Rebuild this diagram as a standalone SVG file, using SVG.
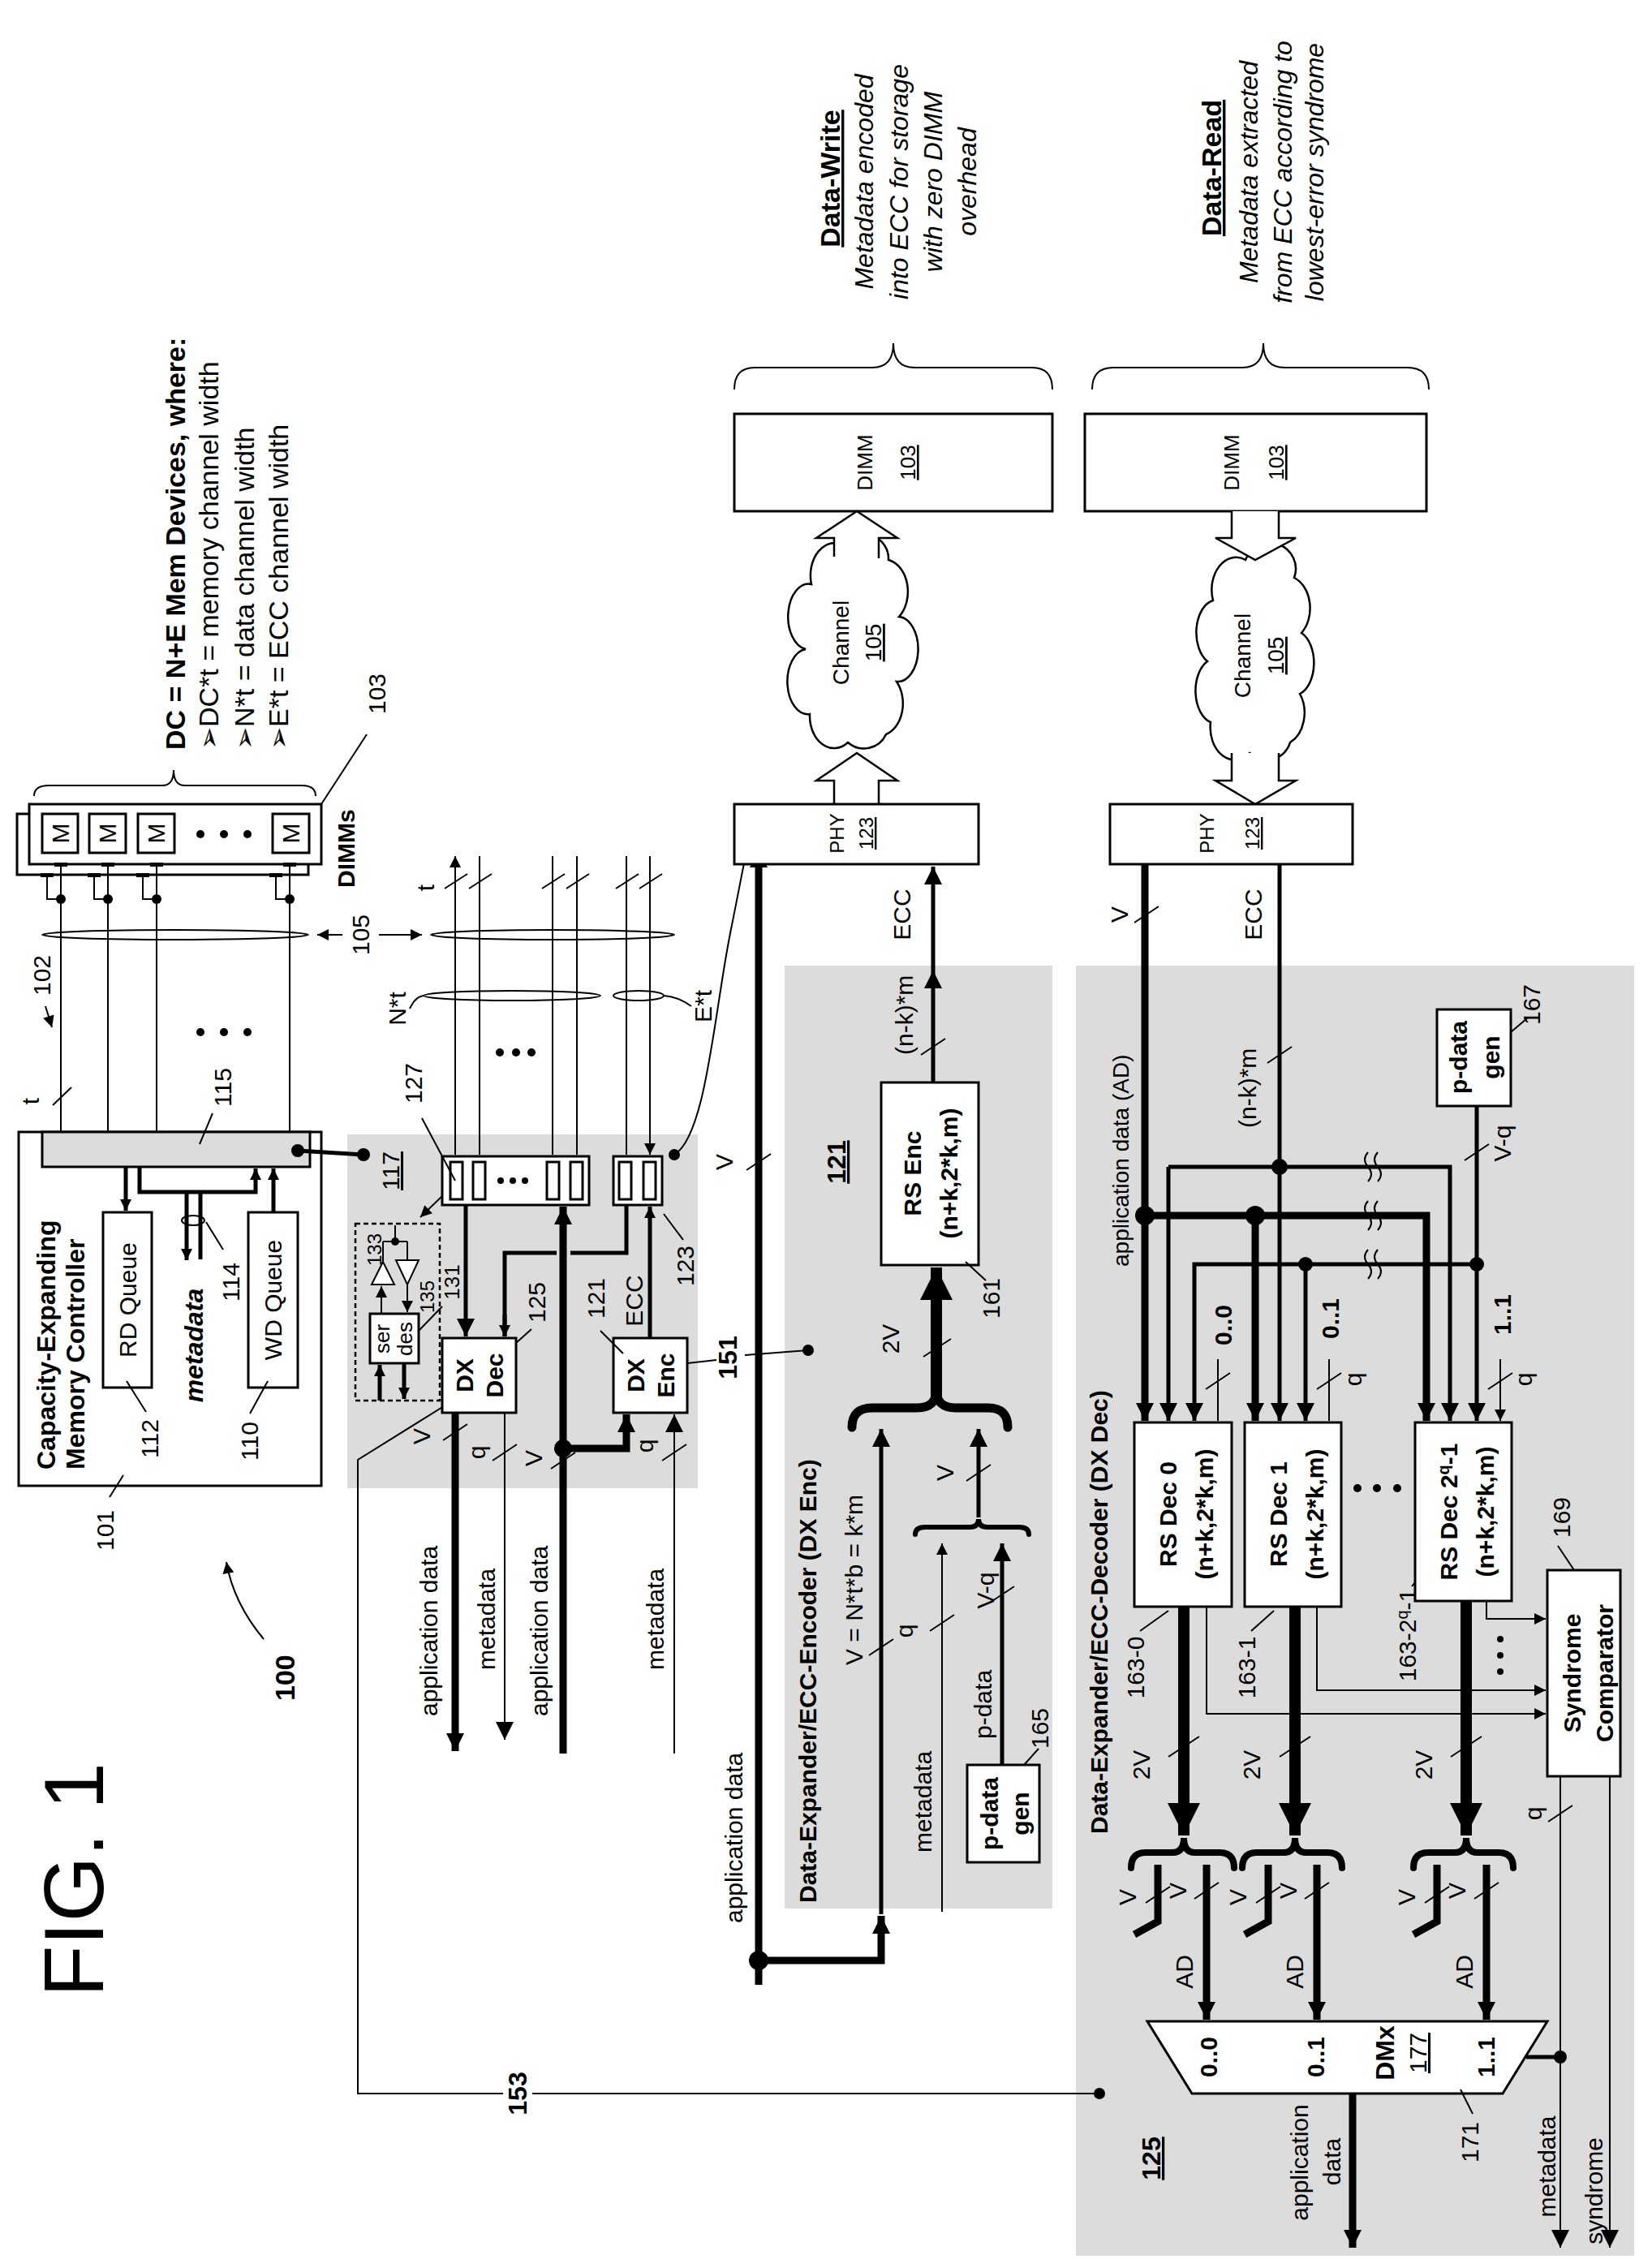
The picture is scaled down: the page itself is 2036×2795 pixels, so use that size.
<svg xmlns="http://www.w3.org/2000/svg" width="2036" height="2795" viewBox="0 0 2036 2795">
<style>
text{font-family:"Liberation Sans",Arial,sans-serif;fill:#000}
.m{text-anchor:middle}
.b{font-weight:bold}
.i{font-style:italic}
.u{text-decoration:underline}
.f24{font-size:24px}.f26{font-size:26px}.f28{font-size:28px}.f30{font-size:30px}.f32{font-size:32px}.f34{font-size:34px}
.box{fill:#fff;stroke:#000;stroke-width:3}
.ln{fill:none;stroke:#000;stroke-width:2}
.md{fill:none;stroke:#000;stroke-width:5}
.tk{fill:none;stroke:#000;stroke-width:9}
.xt{fill:none;stroke:#000;stroke-width:14}
.gray{fill:#dcdcdc;stroke:none}
.dot{fill:#000}
</style>
<defs>
<marker id="a" viewBox="0 0 10 10" refX="10" refY="5" markerWidth="18" markerHeight="14" markerUnits="userSpaceOnUse" orient="auto"><path d="M0,0L10,5L0,10z"/></marker>
<marker id="am" viewBox="0 0 10 10" refX="10" refY="5" markerWidth="28" markerHeight="22" markerUnits="userSpaceOnUse" orient="auto"><path d="M0,0L10,5L0,10z"/></marker>
<marker id="ab" viewBox="0 0 10 10" refX="10" refY="5" markerWidth="46" markerHeight="40" markerUnits="userSpaceOnUse" orient="auto"><path d="M0,0L10,5L0,10z"/></marker>
<marker id="as" viewBox="0 0 10 10" refX="0" refY="5" markerWidth="18" markerHeight="14" markerUnits="userSpaceOnUse" orient="auto"><path d="M10,0L0,5L10,10z"/></marker>
</defs>
<rect width="2036" height="2795" fill="#fff"/>

<!-- gray regions -->
<rect class="gray" x="428" y="1398" width="432" height="436"/>
<rect class="gray" x="967" y="1190" width="330" height="1162"/>
<rect class="gray" x="1326" y="1190" width="688" height="1590"/>

<text class="f" transform="translate(127,2461) rotate(-90)" style="font-size:104px">FIG. 1</text>
<g id="n100">
<text class="b f34" transform="translate(363,2096) rotate(-90)">100</text>
<path class="ln" d="M325,2020 C300,1990 285,1960 279,1925" marker-end="url(#a)"/>
</g>

<g id="dimms">
<rect class="box" x="21" y="1003" width="359" height="75"/>
<rect class="box" x="36" y="991" width="360" height="74"/>
<rect class="box" x="52" y="1003" width="44" height="48"/>
<rect class="box" x="110" y="1003" width="45" height="48"/>
<rect class="box" x="170" y="1003" width="45" height="48"/>
<rect class="box" x="336" y="1003" width="45" height="48"/>
<text class="m f30" transform="translate(85,1027) rotate(-90)">M</text>
<text class="m f30" transform="translate(143,1027) rotate(-90)">M</text>
<text class="m f30" transform="translate(203,1027) rotate(-90)">M</text>
<text class="m f30" transform="translate(369,1027) rotate(-90)">M</text>
<circle class="dot" cx="247" cy="1028" r="5"/><circle class="dot" cx="276" cy="1028" r="5"/><circle class="dot" cx="305" cy="1028" r="5"/>
<g fill="#000">
<rect x="67" y="1063" width="16" height="5"/><rect x="125" y="1063" width="16" height="5"/><rect x="185" y="1063" width="16" height="5"/><rect x="349" y="1063" width="16" height="5"/>
<rect x="50" y="1076" width="16" height="5"/><rect x="108" y="1076" width="16" height="5"/><rect x="168" y="1076" width="16" height="5"/><rect x="332" y="1076" width="16" height="5"/>
</g>
<path class="ln" d="M58,1080V1108H75M116,1080V1108H133M176,1080V1108H193M340,1080V1108H357"/>
<circle class="dot" cx="75" cy="1108" r="6"/><circle class="dot" cx="133" cy="1108" r="6"/><circle class="dot" cx="193" cy="1108" r="6"/><circle class="dot" cx="357" cy="1108" r="6"/>
<path class="ln" d="M42,981 Q42,968 60,968 H200 Q214,968 214,949 Q214,968 228,968 H372 Q389,968 389,981"/>
<text class="b f30" transform="translate(437,1094) rotate(-90)">DIMMs</text>
<text class="f30" transform="translate(475,880) rotate(-90)">103</text>
<path class="ln" d="M396,991 L452,905"/>
<text class="b f34" transform="translate(228,924) rotate(-90)">DC = N+E Mem Devices, where:</text>
<text class="f34" transform="translate(269,924) rotate(-90)">➢DC*t = memory channel width</text>
<text class="f34" transform="translate(313,924) rotate(-90)">➢N*t = data channel width</text>
<text class="f34" transform="translate(355,924) rotate(-90)">➢E*t = ECC channel width</text>
</g>

<g id="controller">
<rect class="box" x="23" y="1395" width="373" height="436"/>
<rect x="52" y="1395" width="330" height="43" fill="#dcdcdc" stroke="#000" stroke-width="3"/>
<text class="b f32" transform="translate(68,1811) rotate(-90)">Capacity-Expanding</text>
<text class="b f32" transform="translate(104,1811) rotate(-90)">Memory Controller</text>
<rect class="box" x="127" y="1494" width="60" height="216"/>
<text class="m f30" transform="translate(168,1602) rotate(-90)">RD Queue</text>
<rect class="box" x="306" y="1494" width="61" height="216"/>
<text class="m f30" transform="translate(347,1602) rotate(-90)">WD Queue</text>
<path class="md" d="M155,1438V1492" marker-end="url(#a)"/>
<path class="md" d="M337,1494V1440" marker-end="url(#a)"/>
<path class="md" d="M172,1438V1469H315V1440" marker-end="url(#a)"/>
<path class="md" d="M230,1469V1553" marker-end="url(#a)"/>
<path class="md" d="M247,1469V1552"/>
<ellipse class="ln" cx="238" cy="1504" rx="14" ry="6"/>
<text class="b i f32 m" transform="translate(250,1658) rotate(-90)">metadata</text>
<text class="f30" transform="translate(295,1604) rotate(-90)">114</text>
<path class="ln" d="M254,1506 L275,1540"/>
<text class="f30" transform="translate(195,1797) rotate(-90)">112</text>
<path class="ln" d="M156,1702 L180,1740"/>
<text class="f30" transform="translate(318,1800) rotate(-90)">110</text>
<path class="ln" d="M330,1702 L308,1742"/>
<text class="f30" transform="translate(140,1911) rotate(-90)">101</text>
<path class="ln" d="M152,1818 L135,1845"/>
<text class="f30 m" transform="translate(285,1340) rotate(-90)">115</text>
<path class="ln" d="M262,1372 L246,1410"/>
</g>

<g id="connectors">
<path class="ln" d="M75,1065V1395M133,1065V1395M193,1065V1395M357,1065V1395"/>
<path class="ln" d="M65,1362 L88,1340"/>
<text class="m f30" transform="translate(48,1357) rotate(-90)">t</text>
<ellipse class="ln" cx="216" cy="1152" rx="164" ry="6"/>
<text class="m f30" transform="translate(455,1152) rotate(-90)">105</text>
<path class="ln" d="M422,1152H391" marker-end="url(#a)"/>
<path class="ln" d="M467,1152H520" marker-end="url(#a)"/>
<text class="m f30" transform="translate(62,1202) rotate(-90)">102</text>
<path class="ln" d="M56,1240L64,1266" marker-end="url(#a)"/>
<circle class="dot" cx="247" cy="1272" r="5"/><circle class="dot" cx="276" cy="1272" r="5"/><circle class="dot" cx="305" cy="1272" r="5"/>

<path class="ln" d="M561,1055V1423M591,1055V1423M681,1055V1423M711,1055V1423M772,1055V1423M801,1055V1423" marker-start="url(#as)" marker-end="url(#a)"/>
<path class="ln" d="M548,1095L576,1077M578,1095L606,1077M668,1095L696,1077M698,1095L726,1077M759,1095L787,1077M788,1095L816,1077"/>
<text class="m f30" transform="translate(535,1094) rotate(-90)">t</text>
<ellipse class="ln" cx="681" cy="1152" rx="150" ry="6"/>
<ellipse class="ln" cx="631" cy="1227" rx="109" ry="6"/>
<ellipse class="ln" cx="787" cy="1227" rx="31" ry="6"/>
<text class="m f30" transform="translate(500,1243) rotate(-90)">N*t</text>
<path class="ln" d="M505,1243 Q512,1228 522,1227"/>
<text class="m f30" transform="translate(877,1240) rotate(-90)">E*t</text>
<path class="ln" d="M852,1240 Q835,1228 818,1227"/>
<circle class="dot" cx="616" cy="1297" r="5"/><circle class="dot" cx="636" cy="1297" r="5"/><circle class="dot" cx="655" cy="1297" r="5"/>

<!-- 117 block -->
<text class="m f30 u" transform="translate(492,1443) rotate(-90)">117</text>
<path class="md" d="M367,1418L448,1423"/>
<circle class="dot" cx="367" cy="1418" r="8"/><circle class="dot" cx="448" cy="1423" r="8"/>
<path class="md" d="M574,1485V1647" marker-end="url(#am)"/>
<path class="md" d="M772,1485V1544H703M686,1544H622V1647" />
<path class="md" d="M622,1620V1647" marker-end="url(#a)"/>
<path class="md" d="M801,1649V1487" marker-end="url(#a)"/>
<path class="tk" d="M694,2161V1487" marker-end="url(#am)"/>
<circle class="dot" cx="694" cy="1785" r="11"/>
<path class="tk" d="M694,1785H772V1743" marker-end="url(#am)"/>
<path class="tk" d="M561,1741V2158" marker-end="url(#am)"/>
<path class="ln" d="M622,1741V2144" marker-end="url(#am)"/>
<path class="ln" d="M831,2161V1743" marker-end="url(#am)"/>
<path class="ln" d="M546,1775L576,1755M607,1800L637,1780M679,1810L709,1790M816,1800L846,1780"/>
<text class="m f30" transform="translate(530,1770) rotate(-90)">V</text>
<text class="m f30" transform="translate(598,1790) rotate(-90)">q</text>
<text class="m f30" transform="translate(668,1797) rotate(-90)">V</text>
<text class="m f30" transform="translate(805,1782) rotate(-90)">q</text>
<text class="f30" transform="translate(539,2115) rotate(-90)">application data</text>
<text class="f30" transform="translate(610,2058) rotate(-90)">metadata</text>
<text class="f30" transform="translate(675,2115) rotate(-90)">application data</text>
<text class="f30" transform="translate(818,2058) rotate(-90)">metadata</text>
<path class="ln" d="M555,1728 L441,1799 V2580 H620 M656,2580 H1355"/>
<circle class="dot" cx="1355" cy="2580" r="7"/>
<text class="b f32 m" transform="translate(649,2580) rotate(-90)">153</text>
<path class="ln" d="M831,1423 C870,1400 880,1250 900,1150 S915,1070 920,1054"/>
<circle class="dot" cx="831" cy="1423" r="7"/><circle class="dot" cx="920" cy="1054" r="7"/>
<path class="tk" d="M935,2446V1047" marker-end="url(#am)"/>
<path class="ln" d="M920,1442L950,1422"/>
<text class="m f30" transform="translate(903,1432) rotate(-90)">V</text>
<circle class="dot" cx="935" cy="2416" r="12"/>
<path class="tk" d="M935,2416H1086V2361" marker-end="url(#am)"/>
<path class="md" d="M1086,2359V1761" marker-end="url(#am)"/>
<text class="b f32 m" transform="translate(908,1673) rotate(-90)">151</text>
<path class="ln" d="M847,1680L883,1676M918,1670L996,1664"/>
<circle class="dot" cx="996" cy="1664" r="7"/>
<text class="f30" transform="translate(915,2370) rotate(-90)">application data</text>
</g>

<g id="n117">
<rect class="box" x="545" y="1425" width="181" height="60"/>
<rect class="box" x="555" y="1432" width="15" height="46"/><rect class="box" x="583" y="1432" width="15" height="46"/>
<rect class="box" x="674" y="1432" width="15" height="46"/><rect class="box" x="703" y="1432" width="15" height="46"/>
<circle class="dot" cx="617" cy="1455" r="4"/><circle class="dot" cx="632" cy="1455" r="4"/><circle class="dot" cx="647" cy="1455" r="4"/>
<rect class="box" x="756" y="1425" width="60" height="60"/>
<rect class="box" x="763" y="1432" width="15" height="46"/><rect class="box" x="793" y="1432" width="15" height="46"/>
<text class="m f30" transform="translate(520,1335) rotate(-90)">127</text>
<path class="ln" d="M520,1378L561,1455"/>
<path class="ln" d="M545,1474L518,1500" marker-end="url(#a)"/>
<text class="m f30" transform="translate(855,1560) rotate(-90)">123</text>
<path class="ln" d="M842,1528L818,1496"/>
<rect x="438" y="1508" width="104" height="218" fill="none" stroke="#000" stroke-width="2.5" stroke-dasharray="6,4"/>
<rect class="box" x="456" y="1619" width="60" height="61"/>
<text class="m f26" transform="translate(480,1650) rotate(-90)">ser</text>
<text class="m f26" transform="translate(508,1650) rotate(-90)">des</text>
<path class="box" d="M472,1555L458,1583H486Z" style="stroke-width:2"/>
<path class="box" d="M502,1583L488,1553H516Z" style="stroke-width:2"/>
<path class="ln" d="M487,1510V1530M472,1530H502M472,1530V1555M502,1530V1553"/>
<circle class="dot" cx="487" cy="1530" r="5"/>
<path class="ln" d="M470,1619V1585" marker-end="url(#a)"/>
<path class="ln" d="M502,1583V1617" marker-end="url(#a)"/>
<path class="md" d="M468,1726V1682" marker-end="url(#a)"/>
<path class="md" d="M498,1680V1724" marker-end="url(#a)"/>
<text class="m f24" transform="translate(470,1540) rotate(-90)">133</text>
<text class="m f24" transform="translate(535,1598) rotate(-90)">135</text>
<text class="m f26" transform="translate(566,1580) rotate(-90)">131</text>
<path class="ln" d="M545,1610L516,1640"/>
</g>

<g id="dxdec">
<rect class="box" x="545" y="1649" width="91" height="92"/>
<text class="b m f30" transform="translate(583,1695) rotate(-90)">DX</text>
<text class="b m f30" transform="translate(620,1695) rotate(-90)">Dec</text>
<text class="m f30" transform="translate(672,1605) rotate(-90)">125</text>
<path class="ln" d="M636,1655L655,1638"/>
</g>
<g id="dxenc">
<rect class="box" x="756" y="1649" width="91" height="92"/>
<text class="b m f30" transform="translate(794,1695) rotate(-90)">DX</text>
<text class="b m f30" transform="translate(831,1695) rotate(-90)">Enc</text>
<text class="m f30" transform="translate(792,1603) rotate(-90)">ECC</text>
<text class="m f30" transform="translate(745,1600) rotate(-90)">121</text>
<path class="ln" d="M740,1640L768,1668"/>
</g>

<g id="enc121">
<text class="b u m f32" transform="translate(1042,1432) rotate(-90)">121</text>
<text class="b f30" transform="translate(1006,2345) rotate(-90)">Data-Expander/ECC-Encoder (DX Enc)</text>
<rect class="box" x="1086" y="1334" width="120" height="225"/>
<text class="b m f30" transform="translate(1135,1446) rotate(-90)">RS Enc</text>
<text class="b m f30" transform="translate(1180,1446) rotate(-90)">(n+k,2*k,m)</text>
<text class="m f30" transform="translate(1232,1600) rotate(-90)">161</text>
<path class="ln" d="M1190,1555L1215,1578"/>
<path class="xt" d="M1154,1722V1562" marker-end="url(#ab)"/>
<path class="ln" d="M1138,1672L1172,1650"/>
<text class="m f30" transform="translate(1108,1650) rotate(-90)">2V</text>
<path fill="none" stroke="#000" stroke-width="11" stroke-linecap="round" d="M1050,1759 Q1050,1735 1075,1735 H1130 Q1154,1735 1154,1713 Q1154,1735 1178,1735 H1218 Q1242,1735 1242,1759"/>
<path fill="none" stroke="#000" stroke-width="6" stroke-linecap="round" d="M1128,1891 Q1128,1882 1140,1882 H1195 Q1206,1882 1206,1872 Q1206,1882 1217,1882 H1256 Q1268,1882 1268,1891"/>
<path class="md" d="M1206,1870V1761" marker-end="url(#am)"/>
<path class="ln" d="M1191,1825L1221,1805"/>
<text class="m f30" transform="translate(1175,1815) rotate(-90)">V</text>
<path class="ln" d="M1161,2356V1902" marker-end="url(#a)"/>
<path class="md" d="M1235,2175V1902" marker-end="url(#am)"/>
<text class="f30" transform="translate(1063,2052) rotate(-90)">V = N*t*b = k*m</text>
<path class="ln" d="M1071,2040L1101,2020M1146,2010L1176,1990M1220,1975L1250,1955"/>
<text class="m f30" transform="translate(1125,2010) rotate(-90)">q</text>
<text class="m f30" transform="translate(1225,1960) rotate(-90)">V-q</text>
<text class="f30" transform="translate(1148,2283) rotate(-90)">metadata</text>
<text class="f30" transform="translate(1222,2143) rotate(-90)">p-data</text>
<path class="md" d="M1150,1334V1196" marker-end="url(#am)"/>
<path class="md" d="M1150,1196V1068" marker-end="url(#am)"/>
<path class="ln" d="M1135,1300L1165,1280"/>
<text class="f30" transform="translate(1125,1300) rotate(-90)">(n-k)*m</text>
<text class="m f30" transform="translate(1122,1127) rotate(-90)">ECC</text>
</g>
<g id="pgen165">
<rect class="box" x="1192" y="2175" width="89" height="120"/>
<text class="b m f30" transform="translate(1230,2235) rotate(-90)">p-data</text>
<text class="b m f30" transform="translate(1268,2235) rotate(-90)">gen</text>
<text class="m f30" transform="translate(1292,2130) rotate(-90)">165</text>
<path class="ln" d="M1262,2175L1280,2155"/>
</g>

<g id="write">
<rect class="box" x="905" y="510" width="392" height="120"/>
<text class="m f26" transform="translate(1075,570) rotate(-90)">DIMM</text>
<text class="m f26 u" transform="translate(1128,570) rotate(-90)">103</text>
<path class="ln" d="M905,480 Q905,453 930,453 H1075 Q1101,453 1101,423 Q1101,453 1127,453 H1272 Q1297,453 1297,480"/>
<text class="b u m f34" transform="translate(1035,220) rotate(-90)">Data-Write</text>
<text class="i m f32" transform="translate(1076,224) rotate(-90)">Metadata encoded</text>
<text class="i m f32" transform="translate(1119,224) rotate(-90)">into ECC for storage</text>
<text class="i m f32" transform="translate(1161,224) rotate(-90)">with zero DIMM</text>
<text class="i m f32" transform="translate(1203,224) rotate(-90)">overhead</text>
<path class="box" style="stroke-width:2.5" d="M1000,720 A30,40 0 0 1 1040,672 A30,30 0 0 1 1095,690 A30,40 0 0 1 1108,760 A25,40 0 0 1 1105,840 A30,40 0 0 1 1092,905 A30,30 0 0 1 1045,915 A30,40 0 0 1 998,880 A25,40 0 0 1 993,800 A25,40 0 0 1 1000,720 Z"/>
<text class="m f28" transform="translate(1046,792) rotate(-90)">Channel</text>
<text class="m f28 u" transform="translate(1086,792) rotate(-90)">105</text>
<path class="box" style="stroke-width:2.5" d="M1028,991V962H1006L1056,928L1106,962H1083V991"/>
<path class="box" style="stroke-width:2.5" d="M1028,686V663H1006L1056,630L1106,663H1083V688"/>
<rect class="box" x="905" y="991" width="301" height="74"/>
<text class="m f24" transform="translate(1040,1027) rotate(-90)">PHY</text>
<text class="m f24 u" transform="translate(1076,1027) rotate(-90)">123</text>
</g>

<g id="read">
<rect class="box" x="1337" y="510" width="421" height="120"/>
<text class="m f26" transform="translate(1527,570) rotate(-90)">DIMM</text>
<text class="m f26 u" transform="translate(1582,570) rotate(-90)">103</text>
<path class="ln" d="M1346,480 Q1346,453 1372,453 H1531 Q1557,453 1557,423 Q1557,453 1583,453 H1735 Q1761,453 1761,480"/>
<text class="b u m f34" transform="translate(1505,207) rotate(-90)">Data-Read</text>
<text class="i m f32" transform="translate(1550,212) rotate(-90)">Metadata extracted</text>
<text class="i m f32" transform="translate(1592,212) rotate(-90)">from ECC according to</text>
<text class="i m f32" transform="translate(1631,212) rotate(-90)">lowest-error syndrome</text>
<path class="box" style="stroke-width:2.5" d="M1495,740 A30,40 0 0 1 1535,690 A30,30 0 0 1 1595,712 A30,40 0 0 1 1604,780 A25,40 0 0 1 1602,855 A30,40 0 0 1 1590,915 A30,30 0 0 1 1540,928 A30,40 0 0 1 1492,890 A25,40 0 0 1 1488,815 A25,40 0 0 1 1495,740 Z"/>
<text class="m f28" transform="translate(1541,808) rotate(-90)">Channel</text>
<text class="m f28 u" transform="translate(1582,808) rotate(-90)">105</text>
<path class="box" style="stroke-width:2.5" d="M1518,630V663H1498L1547,690L1597,663H1576V630"/>
<path class="box" style="stroke-width:2.5" d="M1518,928V962H1498L1547,991L1597,962H1576V928"/>
<rect class="box" x="1368" y="991" width="299" height="74"/>
<text class="m f24" transform="translate(1496,1027) rotate(-90)">PHY</text>
<text class="m f24 u" transform="translate(1552,1027) rotate(-90)">123</text>
</g>

<g id="dec125">
<text class="b f30" transform="translate(1365,2260) rotate(-90)">Data-Expander/ECC-Decoder (DX Dec)</text>
<path class="ln" d="M1398,1137L1428,1117"/>
<text class="m f30" transform="translate(1390,1127) rotate(-90)">V</text>
<text class="m f30" transform="translate(1555,1127) rotate(-90)">ECC</text>
<text class="f28" transform="translate(1391,1561) rotate(-90)">application data (AD)</text>
<text class="f30" transform="translate(1548,1390) rotate(-90)">(n-k)*m</text>
<path class="ln" d="M1562,1310L1592,1290"/>
<path class="tk" d="M1411,1065V1751" marker-end="url(#am)"/>
<path class="tk" d="M1411,1498H1758V1751" marker-end="url(#am)"/>
<path class="tk" d="M1547,1498V1751" marker-end="url(#am)"/>
<circle class="dot" cx="1411" cy="1498" r="12"/><circle class="dot" cx="1547" cy="1498" r="12"/>
<path class="md" d="M1577,1065V1751" marker-end="url(#am)"/>
<path class="md" d="M1440,1438V1751" marker-end="url(#am)"/>
<path class="md" d="M1440,1438H1787V1751" marker-end="url(#am)"/>
<circle class="dot" cx="1577" cy="1438" r="10"/>
<path class="md" d="M1820,1363V1751" marker-end="url(#am)"/>
<path class="md" d="M1820,1558H1472V1751" marker-end="url(#am)"/>
<path class="md" d="M1609,1558V1751" marker-end="url(#am)"/>
<circle class="dot" cx="1820" cy="1558" r="9"/><circle class="dot" cx="1609" cy="1558" r="9"/>
<path class="ln" d="M1805,1430L1835,1410"/>
<text class="m f30" transform="translate(1862,1409) rotate(-90)">V-q</text>
<path class="ln" d="M1686,1420q-8,9 0,18q8,9 0,18M1698,1420q-8,9 0,18q8,9 0,18M1686,1480q-8,9 0,18q8,9 0,18M1698,1480q-8,9 0,18q8,9 0,18M1686,1540q-8,9 0,18q8,9 0,18M1698,1540q-8,9 0,18q8,9 0,18"/>
<path class="ln" d="M1501,1675V1751M1638,1675V1751M1849,1675V1751" marker-end="url(#a)"/>
<path class="ln" d="M1486,1712L1516,1692M1623,1712L1653,1692M1834,1712L1864,1692"/>
<text class="b m f30" transform="translate(1518,1633) rotate(-90)">0..0</text>
<text class="b m f30" transform="translate(1650,1625) rotate(-90)">0..1</text>
<text class="b m f30" transform="translate(1862,1620) rotate(-90)">1..1</text>
<text class="m f30" transform="translate(1678,1700) rotate(-90)">q</text>
<text class="m f30" transform="translate(1888,1700) rotate(-90)">q</text>
<text class="m f30" transform="translate(1410,2055) rotate(-90)">163-0</text>
<path class="ln" d="M1405,2010L1440,1985"/>
<text class="m f30" transform="translate(1547,2055) rotate(-90)">163-1</text>
<path class="ln" d="M1542,2010L1570,1985"/>
<text class="m f30" transform="translate(1745,2015) rotate(-90)">163-2<tspan dy="-10" style="font-size:20px">q</tspan><tspan dy="10">-1</tspan></text>
<path class="ln" d="M1740,1955L1760,1930"/>
<circle class="dot" cx="1673" cy="1834" r="5"/><circle class="dot" cx="1697" cy="1834" r="5"/><circle class="dot" cx="1722" cy="1834" r="5"/>
<path class="xt" d="M1459,1980V2262" marker-end="url(#ab)"/>
<path class="xt" d="M1596,1980V2262" marker-end="url(#ab)"/>
<path class="xt" d="M1807,1973V2262" marker-end="url(#ab)"/>
<path class="ln" d="M1440,2165L1478,2140M1577,2165L1615,2140M1788,2165L1826,2140"/>
<text class="m f30" transform="translate(1417,2175) rotate(-90)">2V</text>
<text class="m f30" transform="translate(1553,2175) rotate(-90)">2V</text>
<text class="m f30" transform="translate(1765,2175) rotate(-90)">2V</text>
<path class="ln" d="M1487,1980V2112H1905" marker-end="url(#a)"/>
<path class="ln" d="M1623,1980V2083H1905" marker-end="url(#a)"/>
<path class="ln" d="M1832,1973V1995H1905" marker-end="url(#a)"/>
<circle class="dot" cx="1849" cy="2020" r="4"/><circle class="dot" cx="1849" cy="2040" r="4"/><circle class="dot" cx="1849" cy="2060" r="4"/>
<text class="b u m f32" transform="translate(1430,2660) rotate(-90)">125</text>
</g>

<g id="rsdec0">
<rect class="box" x="1398" y="1753" width="120" height="227"/>
<text class="b m f30" transform="translate(1450,1866) rotate(-90)">RS Dec 0</text>
<text class="b m f30" transform="translate(1495,1866) rotate(-90)">(n+k,2*k,m)</text>
</g>
<g id="rsdec1">
<rect class="box" x="1534" y="1753" width="119" height="227"/>
<text class="b m f30" transform="translate(1586,1866) rotate(-90)">RS Dec 1</text>
<text class="b m f30" transform="translate(1631,1866) rotate(-90)">(n+k,2*k,m)</text>
</g>
<g id="rsdec2">
<rect class="box" x="1744" y="1753" width="119" height="220"/>
<text class="b m f30" transform="translate(1796,1863) rotate(-90)">RS Dec 2<tspan dy="-10" style="font-size:20px">q</tspan><tspan dy="10">-1</tspan></text>
<text class="b m f30" transform="translate(1841,1863) rotate(-90)">(n+k,2*k,m)</text>
</g>
<g id="pgen167">
<rect class="box" x="1771" y="1244" width="91" height="119"/>
<text class="b m f30" transform="translate(1808,1303) rotate(-90)">p-data</text>
<text class="b m f30" transform="translate(1848,1303) rotate(-90)">gen</text>
<text class="m f30" transform="translate(1898,1238) rotate(-90)">167</text>
<path class="ln" d="M1862,1272L1882,1255"/>
</g>
<g id="syndrome">
<rect class="box" x="1907" y="1935" width="90" height="254"/>
<text class="b m f30" transform="translate(1948,2062) rotate(-90)">Syndrome</text>
<text class="b m f30" transform="translate(1988,2062) rotate(-90)">Comparator</text>
<text class="m f30" transform="translate(1935,1870) rotate(-90)">169</text>
<path class="ln" d="M1920,1905L1940,1935"/>
<path class="ln" d="M1923,2189V2770" marker-end="url(#am)"/>
<path class="ln" d="M1984,2189V2770" marker-end="url(#am)"/>
<path class="ln" d="M1908,2245L1938,2225"/>
<text class="m f30" transform="translate(1900,2235) rotate(-90)">q</text>
<circle class="dot" cx="1923" cy="2535" r="8"/>
<path class="md" d="M1923,2535H1881"/>
<text class="m f30" transform="translate(1917,2670) rotate(-90)">metadata</text>
<text class="m f30" transform="translate(1975,2700) rotate(-90)">syndrome</text>
</g>

<g id="dmx">
<path class="box" d="M1414,2491H1907L1852,2580H1469Z"/>
<text class="b m f30" transform="translate(1500,2535) rotate(-90)">0..0</text>
<text class="b m f30" transform="translate(1632,2535) rotate(-90)">0..1</text>
<text class="b m f30" transform="translate(1842,2535) rotate(-90)">1..1</text>
<text class="b m f32" transform="translate(1718,2530) rotate(-90)">DMx</text>
<text class="m f30 u" transform="translate(1758,2530) rotate(-90)">177</text>
<text class="m f30" transform="translate(1822,2640) rotate(-90)">171</text>
<path class="ln" d="M1800,2575L1815,2605"/>
<path class="tk" d="M1667,2580V2770" marker-end="url(#am)"/>
<text class="m f30" transform="translate(1612,2665) rotate(-90)">application</text>
<text class="m f30" transform="translate(1652,2664) rotate(-90)">data</text>
</g>

<g id="splits">
<path fill="none" stroke="#000" stroke-width="8" stroke-linecap="round" d="M1394,2302 Q1394,2283 1412,2283 H1445 Q1459,2283 1459,2265 Q1459,2283 1473,2283 H1503 Q1521,2283 1521,2302"/>
<path fill="none" stroke="#000" stroke-width="8" stroke-linecap="round" d="M1531,2302 Q1531,2283 1549,2283 H1582 Q1596,2283 1596,2265 Q1596,2283 1610,2283 H1636 Q1654,2283 1654,2302"/>
<path fill="none" stroke="#000" stroke-width="8" stroke-linecap="round" d="M1742,2302 Q1742,2283 1760,2283 H1793 Q1807,2283 1807,2265 Q1807,2283 1821,2283 H1847 Q1865,2283 1865,2302"/>
<path class="tk" d="M1427,2298V2368L1398,2384M1563,2298V2368L1534,2384M1771,2298V2368L1742,2384"/>
<path class="tk" d="M1487,2298V2489" marker-end="url(#am)"/>
<path class="tk" d="M1623,2298V2489" marker-end="url(#am)"/>
<path class="tk" d="M1832,2298V2489" marker-end="url(#am)"/>
<path class="ln" d="M1412,2345L1442,2325M1472,2340L1502,2320M1548,2345L1578,2325M1608,2340L1638,2320M1756,2345L1786,2325M1817,2340L1847,2320"/>
<text class="m f30" transform="translate(1400,2338) rotate(-90)">V</text>
<text class="m f30" transform="translate(1462,2330) rotate(-90)">V</text>
<text class="m f30" transform="translate(1536,2338) rotate(-90)">V</text>
<text class="m f30" transform="translate(1598,2330) rotate(-90)">V</text>
<text class="m f30" transform="translate(1744,2338) rotate(-90)">V</text>
<text class="m f30" transform="translate(1806,2330) rotate(-90)">V</text>
<text class="m f30" transform="translate(1470,2430) rotate(-90)">AD</text>
<text class="m f30" transform="translate(1606,2430) rotate(-90)">AD</text>
<text class="m f30" transform="translate(1815,2430) rotate(-90)">AD</text>
</g>
</svg>
